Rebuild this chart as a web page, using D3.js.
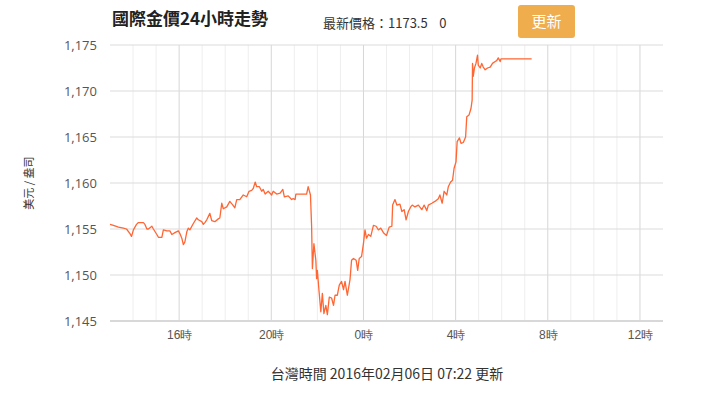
<!DOCTYPE html>
<html>
<head>
<meta charset="utf-8">
<script src="https://cdn.jsdelivr.net/npm/d3@7"></script>
<style>
  body { margin: 0; background: #fff; }
  svg { display: block; font-family: "Noto Sans CJK TC", "Noto Sans", sans-serif; }
</style>
</head>
<body>
<svg width="720" height="395"></svg>
<script>
// 國際金價 24 小時 (台灣時間, 02/05 13:00 起)
const times = [
  '13:00','13:09','13:22','13:35','13:43','13:52','13:56','14:01','14:09','14:14',
  '14:27','14:31','14:36','14:40','14:49','14:53','15:02','15:06','15:15','15:19',
  '15:28','15:36','15:41','15:49','15:58','16:02','16:07','16:11','16:15','16:20',
  '16:24','16:28','16:37','16:46','16:50','16:59','17:03','17:07','17:12','17:20',
  '17:25','17:33','17:42','17:46','17:51','17:55','18:04','18:12','18:20','18:25',
  '18:30','18:38','18:47','18:56','19:02','19:09','19:13','19:18','19:22','19:29',
  '19:35','19:39','19:44','19:52','20:01','20:05','20:14','20:23','20:30','20:34',
  '20:44','20:53','20:57','21:02','21:04','21:32','21:36','21:42','21:45','21:47',
  '21:51','21:56','21:58','22:00','22:04','22:09','22:13','22:17','22:22','22:26',
  '22:31','22:37','22:42','22:46','22:52','22:57','23:03','23:08','23:12','23:18',
  '23:25','23:29','23:34','23:41','23:45','23:49','23:55','00:00','00:04','00:08',
  '00:13','00:19','00:26','00:33','00:39','00:45','00:52','01:00','01:07','01:14',
  '01:16','01:22','01:27','01:35','01:40','01:46','01:51','01:57','02:03','02:07',
  '02:14','02:23','02:32','02:38','02:45','02:49','02:58','03:06','03:15','03:19',
  '03:25','03:30','03:37','03:41','03:47','03:52','03:56','04:01','04:04','04:10',
  '04:14','04:20','04:26','04:29','04:35','04:40','04:43','04:44','04:46','04:49',
  '04:53','04:57','04:59','05:04','05:08','05:12','05:17','05:23','05:30','05:36',
  '05:43','05:47','05:51','05:56','05:58','07:18'
];
const prices = [
  1155.5,1155.4,1155.2,1155.1,1155.0,1154.5,1154.2,1154.9,1155.5,1155.7,
  1155.7,1155.5,1155.0,1155.0,1155.3,1155.0,1154.4,1154.1,1154.1,1154.9,
  1154.8,1154.8,1154.4,1154.6,1154.8,1154.5,1154.0,1153.3,1153.6,1154.7,
  1155.1,1154.9,1155.6,1156.2,1156.0,1155.8,1155.5,1155.7,1156.0,1156.7,
  1155.9,1155.8,1156.1,1156.2,1157.8,1157.2,1157.4,1158.0,1157.6,1157.3,
  1158.2,1158.2,1158.7,1158.5,1159.1,1159.2,1159.4,1160.1,1159.6,1159.6,
  1159.1,1159.3,1158.8,1159.1,1158.7,1159.1,1158.8,1158.9,1159.3,1158.5,
  1158.6,1158.2,1158.3,1158.2,1158.8,1158.8,1159.6,1158.7,1155.3,1150.7,
  1153.4,1151.6,1149.6,1150.5,1148.4,1146.0,1148.0,1145.8,1146.7,1145.7,
  1147.6,1147.5,1146.7,1147.8,1147.8,1148.9,1149.3,1148.4,1149.3,1147.8,
  1149.5,1151.6,1151.8,1151.6,1150.5,1151.8,1152.0,1153.4,1154.9,1154.0,
  1154.4,1154.2,1155.4,1155.3,1154.9,1155.1,1154.6,1154.3,1155.2,1155.3,
  1157.6,1158.2,1157.6,1157.7,1156.9,1157.1,1156.0,1156.9,1157.4,1157.6,
  1157.4,1157.6,1157.1,1157.6,1157.0,1157.6,1157.8,1158.0,1158.3,1158.7,
  1157.8,1159.1,1158.7,1159.6,1160.1,1160.3,1161.6,1162.3,1164.5,1164.9,
  1164.3,1164.4,1165.0,1167.2,1167.4,1168.1,1169.0,1173.0,1171.6,1172.5,
  1173.0,1173.9,1172.8,1172.5,1173.0,1172.6,1172.3,1172.5,1172.6,1173.0,
  1173.2,1173.3,1173.6,1173.2,1173.5,1173.5
];
const yTicks = [1145, 1150, 1155, 1160, 1165, 1170, 1175];
const xTickHours = [16, 20, 0, 4, 8, 12];
const startTime = new Date(2016, 1, 5, 13, 0);
const endTime = new Date(2016, 1, 6, 13, 0);
const latestPrice = '1173.5';
const priceChange = '0';
const updatedAt = '2016年02月06日 07:22';

// build dated points, rolling to next day after midnight
let day = 5, prevMin = -1;
const data = times.map((t, i) => {
  const [h, m] = t.split(':').map(Number);
  const mins = h * 60 + m;
  if (mins < prevMin) day += 1;
  prevMin = mins;
  return { date: new Date(2016, 1, day, h, m), value: prices[i] };
});

const svg = d3.select('svg');
const margin = { left: 110, right: 57, top: 45, bottom: 74 };
const W = 720, H = 395;

const x = d3.scaleTime()
  .domain([startTime, endTime])
  .range([margin.left, W - margin.right]);
const y = d3.scaleLinear()
  .domain([1145, 1175])
  .range([H - margin.bottom, margin.top]);

// header
svg.append('text')
  .attr('x', 112).attr('y', 25)
  .attr('font-size', 17).attr('font-weight', 'bold').attr('fill', '#222')
  .text('國際金價24小時走勢');

svg.append('text')
  .attr('x', 323).attr('y', 28)
  .attr('font-size', 13).attr('fill', '#333')
  .attr('xml:space', 'preserve')
  .text('最新價格：' + latestPrice + '    ' + priceChange);

const btn = svg.append('g').attr('transform', 'translate(518,5)');
btn.append('rect')
  .attr('width', 57).attr('height', 33).attr('rx', 3)
  .attr('fill', '#f0ad4e');
btn.append('text')
  .attr('x', 28.5).attr('y', 22)
  .attr('text-anchor', 'middle')
  .attr('font-size', 15).attr('fill', '#fff')
  .text('更新');

// minor hourly gridlines
const grid = svg.append('g');
grid.selectAll('.minor')
  .data(d3.timeHour.range(startTime, endTime).slice(1))
  .join('line')
  .attr('x1', d => x(d)).attr('x2', d => x(d))
  .attr('y1', y(1175)).attr('y2', y(1145))
  .attr('stroke', d => d.getHours() % 4 === 0 ? '#d6d6d6' : '#eeeeee')
  .attr('stroke-width', 1);

// horizontal gridlines
grid.selectAll('.hline')
  .data(yTicks)
  .join('line')
  .attr('x1', margin.left).attr('x2', W - margin.right)
  .attr('y1', d => y(d)).attr('y2', d => y(d))
  .attr('stroke', d => d === 1145 ? '#d8d8d8' : '#dcdcdc')
  .attr('stroke-width', d => d === 1145 ? 2 : 1.2);

// y axis labels
const yAxis = svg.append('g')
  .attr('transform', `translate(${margin.left},0)`)
  .call(d3.axisLeft(y).tickValues(yTicks).tickFormat(d3.format(',')).tickSize(0).tickPadding(13));
yAxis.select('.domain').remove();
yAxis.selectAll('text')
  .attr('font-size', 13).attr('fill', '#555')
  .style('font-family', '"Open Sans", "Noto Sans", sans-serif');

svg.append('text')
  .attr('transform', `translate(33,${(y(1145) + y(1175)) / 2}) rotate(-90)`)
  .attr('text-anchor', 'middle')
  .attr('font-size', 11).attr('fill', '#333')
  .text('美元 / 盎司');

// x axis labels
const xTickDates = xTickHours.map(h => {
  const d = new Date(startTime);
  d.setHours(h);
  if (d < startTime) d.setDate(d.getDate() + 1);
  return d;
});
const xAxis = svg.append('g')
  .attr('transform', `translate(0,${y(1145)})`)
  .call(d3.axisBottom(x).tickValues(xTickDates)
    .tickFormat(d => d.getHours() + '時').tickSize(0).tickPadding(9));
xAxis.select('.domain').remove();
xAxis.selectAll('text')
  .attr('font-size', 12).attr('fill', '#555');

// price line
svg.append('path')
  .datum(data)
  .attr('fill', 'none')
  .attr('stroke', '#ff6633')
  .attr('stroke-width', 1.3)
  .attr('stroke-linejoin', 'round')
  .attr('d', d3.line().x(d => x(d.date)).y(d => y(d.value)));

// footer
svg.append('text')
  .attr('x', 387).attr('y', 379)
  .attr('text-anchor', 'middle')
  .attr('font-size', 14).attr('fill', '#333')
  .text('台灣時間 ' + updatedAt + ' 更新');
</script>
</body>
</html>
